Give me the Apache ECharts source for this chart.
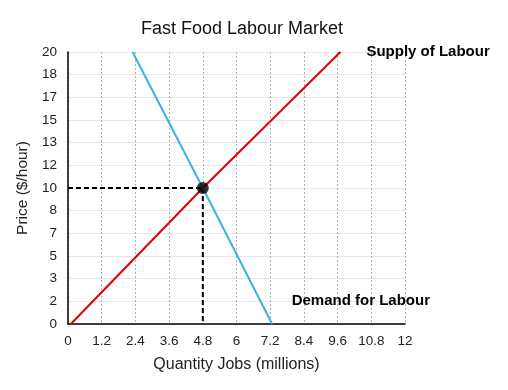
<!DOCTYPE html>
<html>
<head>
<meta charset="utf-8">
<script src="https://cdn.jsdelivr.net/npm/echarts@6/dist/echarts.min.js"></script>
<style>html,body{margin:0;padding:0;background:#fff}#c{width:508px;height:390px}</style>
</head>
<body>
<div id="c"></div>
<script>
var title = "Fast Food Labour Market";
var xName = "Quantity Jobs (millions)";
var yName = "Price ($/hour)";
var supplyName = "Supply of Labour";
var demandName = "Demand for Labour";
var supply = [[0.1, 0], [2.45, 5], [4.8, 10], [9.7, 20]];
var demand = [[2.3, 20], [4.8, 10], [7.27, 0]];
var equilibrium = [4.8, 10];
var xMin = 0, xMax = 12, xStep = 1.2;
var yMin = 0, yMax = 20, yStep = 20 / 12;

var chart = echarts.init(document.getElementById('c'));
var font = 'Liberation Sans, Arial, Helvetica, sans-serif';
chart.setOption({
  animation: false,
  title: {text: title, left: 237, top: 15, textAlign: 'center',
    textStyle: {fontFamily: font, fontSize: 18, fontWeight: 'normal', color: '#111'}},
  grid: {left: 68, right: 103, top: 52, bottom: 66},
  xAxis: {type: 'value', min: xMin, max: xMax, interval: xStep,
    name: xName, nameLocation: 'middle', nameGap: 33,
    nameTextStyle: {fontFamily: font, fontSize: 16, color: '#222'},
    axisLine: {show: true, lineStyle: {color: '#000', width: 1.5}},
    axisTick: {show: false},
    axisLabel: {fontFamily: font, fontSize: 13.5, color: '#222', margin: 10,
      formatter: function (v) { return String(Math.round(v * 10) / 10); }},
    splitLine: {show: true, lineStyle: {color: '#b0b0b0', type: [2, 2], width: 1}}},
  yAxis: {type: 'value', min: yMin, max: yMax, interval: yStep,
    name: yName, nameLocation: 'middle', nameGap: 34, nameRotate: 90,
    nameTextStyle: {fontFamily: font, fontSize: 15.5, color: '#222'},
    axisLine: {show: true, lineStyle: {color: '#000', width: 1.5}},
    axisTick: {show: false},
    axisLabel: {fontFamily: font, fontSize: 13.5, color: '#222', margin: 11,
      formatter: function (v) { return String(Math.round(v)); }},
    splitLine: {show: true, lineStyle: {color: '#e6e6e6', width: 1}}},
  series: [
    {type: 'line', name: 'guideH', data: [[xMin, equilibrium[1]], equilibrium], symbol: 'none',
      lineStyle: {color: '#000', width: 2, type: [5, 3]}, z: 3},
    {type: 'line', name: 'guideV', data: [equilibrium, [equilibrium[0], yMin]], symbol: 'none',
      lineStyle: {color: '#000', width: 2, type: [5, 3]}, z: 3},
    {type: 'line', name: supplyName, data: supply, symbol: 'none',
      lineStyle: {color: '#e00000', width: 2}, z: 4},
    {type: 'line', name: demandName, data: demand, symbol: 'none',
      lineStyle: {color: '#3fb0e0', width: 2}, z: 4},
    {type: 'scatter', data: [equilibrium], symbolSize: 12,
      itemStyle: {color: '#000'}, z: 6}
  ]
});
function place() {
  var s = chart.convertToPixel({gridIndex: 0}, supply[supply.length - 1]);
  var d = chart.convertToPixel({gridIndex: 0}, [8.0, 1.8]);
  chart.setOption({graphic: [
    {type: 'text', x: s[0] + 26, y: s[1], style: {text: supplyName, fontFamily: font, fontSize: 15,
      fontWeight: 'bold', fill: '#000', verticalAlign: 'middle', align: 'left'}},
    {type: 'text', x: d[0] - 1, y: d[1] + 1.5, style: {text: demandName, fontFamily: font, fontSize: 15,
      fontWeight: 'bold', fill: '#000', verticalAlign: 'middle', align: 'left'}}
  ]});
}
place();
</script>
</body>
</html>
